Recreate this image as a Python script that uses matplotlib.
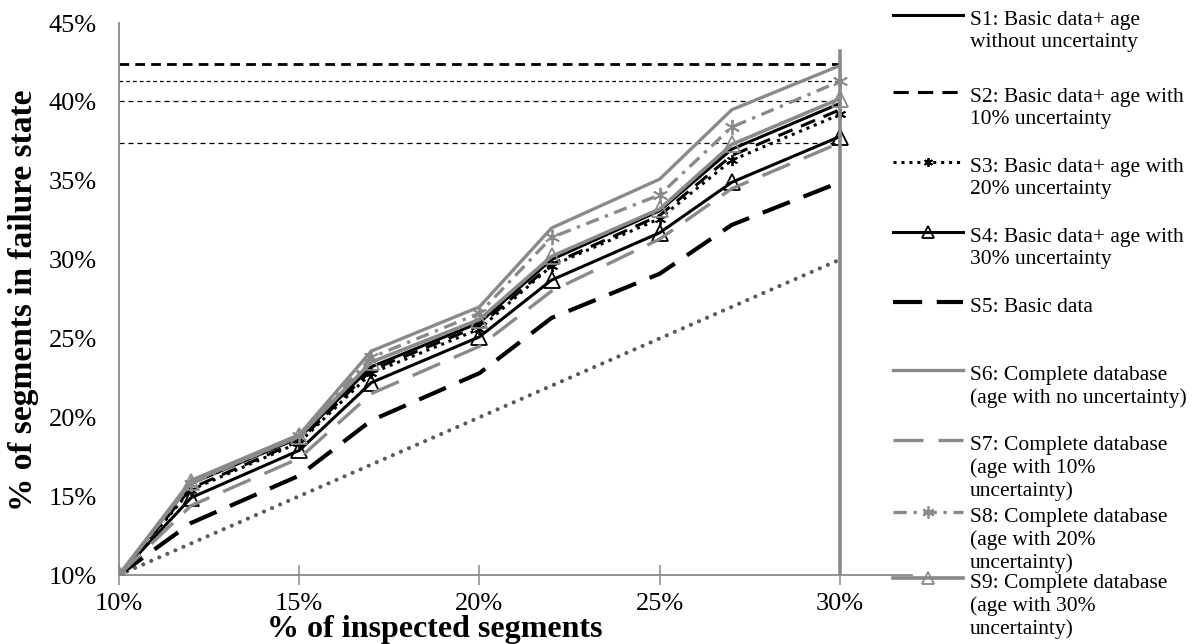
import numpy as np
import matplotlib
matplotlib.use('Agg')
import matplotlib.pyplot as plt
from matplotlib.lines import Line2D

plt.rcParams['font.family'] = ['Liberation Serif', 'DejaVu Serif']

# x positions (% of inspected segments)
inspected = [10, 12, 15, 17, 20, 22, 25, 27, 30]

# % of segments in failure state, per scenario
s1 = [10, 15.8, 18.7, 23.2, 26.0, 30.0, 33.1, 37.0, 39.9]
s2 = [10, 15.5, 18.5, 23.0, 25.8, 29.7, 32.8, 36.6, 39.5]
s3 = [10, 15.4, 18.4, 22.8, 25.6, 29.6, 32.6, 36.3, 39.2]
s4 = [10, 14.9, 17.9, 22.2, 25.1, 28.7, 31.7, 34.9, 37.8]
s5 = [10, 13.3, 16.3, 19.8, 22.8, 26.3, 29.1, 32.2, 34.9]
s6 = [10, 16.0, 18.9, 24.2, 27.0, 32.0, 35.1, 39.5, 42.3]
s7 = [10, 14.4, 17.4, 21.5, 24.5, 28.0, 31.3, 34.5, 37.4]
s8 = [10, 15.8, 18.8, 23.8, 26.6, 31.4, 34.1, 38.4, 41.3]
s9 = [10, 15.9, 18.8, 23.5, 26.2, 30.2, 33.2, 37.3, 40.2]

# random-inspection reference (diagonal) and horizontal reference levels
baseline_x = [10, 30]
baseline_y = [10, 30]
ref_levels = [42.4, 41.3, 40.05, 37.4]
vline_top = 43.2

labels = [
    "S1: Basic data+ age\nwithout uncertainty",
    "S2: Basic data+ age with\n10% uncertainty",
    "S3: Basic data+ age with\n20% uncertainty",
    "S4: Basic data+ age with\n30% uncertainty",
    "S5: Basic data",
    "S6: Complete database\n(age with no uncertainty)",
    "S7: Complete database\n(age with 10%\nuncertainty)",
    "S8: Complete database\n(age with 20%\nuncertainty)",
    "S9: Complete database\n(age with 30%\nuncertainty)",
]

GRAY = '#8a8a8a'
DGRAY = '#5a5a5a'
star = (6, 2, 0)

styles = [
    dict(color='black', lw=2.2, ls='-'),
    dict(color='black', lw=2.2, ls=(0, (5, 3))),
    dict(color='black', lw=2.2, ls=(0, (1, 1.6)), marker=star, ms=8, mew=1.3),
    dict(color='black', lw=2.2, ls='-', marker='^', ms=11, mfc='none', mew=1.3),
    dict(color='black', lw=3.0, ls=(0, (7, 3.5))),
    dict(color=GRAY, lw=2.4, ls='-'),
    dict(color=GRAY, lw=2.4, ls=(0, (9, 4.5))),
    dict(color=GRAY, lw=2.4, ls=(0, (4, 2, 1, 2)), marker=star, ms=11, mew=1.3),
    dict(color=GRAY, lw=2.6, ls='-', marker='^', ms=11, mfc='none', mew=1.3),
]
series = [s1, s2, s3, s4, s5, s6, s7, s8, s9]

W, H = 1204, 644
fig = plt.figure(figsize=(W / 100, H / 100), dpi=100)
ax = fig.add_axes([119 / W, 1 - 575 / H, (912 - 119) / W, (575 - 23) / H])

# diagonal reference
ax.plot(baseline_x, baseline_y, color=DGRAY, lw=3, ls=(0, (0.01, 2.1)),
        dash_capstyle='round', zorder=2)

# horizontal reference lines
ax.plot([10, 30], [ref_levels[0]] * 2, color='black', lw=2.0, ls=(0, (3.5, 2.2)), zorder=2)
ax.plot([10, 30], [ref_levels[1]] * 2, color='black', lw=0.9, ls=(0, (3, 2.4)), zorder=2)
ax.plot([10, 30], [ref_levels[2]] * 2, color='black', lw=0.9, ls=(0, (4, 3.2)), zorder=2)
ax.plot([10, 30], [ref_levels[3]] * 2, color='black', lw=0.9, ls=(0, (4, 3.2)), zorder=2)

# draw order: basic-data series first, then complete database
order = [4, 3, 2, 1, 0, 6, 8, 7, 5]
for i in order:
    st = styles[i]
    ax.plot(inspected, series[i], color=st['color'], lw=st['lw'], ls=st['ls'],
            marker=st.get('marker'), ms=st.get('ms', 0), mfc=st.get('mfc', st['color']),
            mec=st['color'], mew=st.get('mew', 1), zorder=3)

# vertical line at 30%
ax.plot([30, 30], [10, vline_top], color=GRAY, lw=2.6, zorder=4)

ax.set_xlim(10, 32)
ax.set_ylim(10, 45)
ax.set_xticks([10, 15, 20, 25, 30])
ax.set_xticklabels(['10%', '15%', '20%', '25%', '30%'])
ax.set_yticks([10, 15, 20, 25, 30, 35, 40, 45])
ax.set_yticklabels(['%d%%' % v for v in [10, 15, 20, 25, 30, 35, 40, 45]])
ax.tick_params(axis='x', direction='inout', length=14, width=1.1, color=GRAY,
               labelsize=19, pad=6)
ax.tick_params(axis='y', length=0, labelsize=19, pad=16)
for side in ['top', 'right']:
    ax.spines[side].set_visible(False)
for side in ['left', 'bottom']:
    ax.spines[side].set_color(GRAY)
    ax.spines[side].set_linewidth(1.3)

fig.text(24 / W, 1 - 300 / H, '% of segments in failure state', fontsize=24,
         fontweight='bold', rotation=90, ha='center', va='center')
fig.text(435 / W, 1 - 637 / H, '% of inspected segments', fontsize=23,
         fontweight='bold', ha='center', va='baseline')

# legend drawn by hand on the right
leg_y = [15, 92, 162, 232, 302, 370, 440, 512, 578]
for i, y in enumerate(leg_y):
    st = styles[i]
    fy = 1 - y / H
    fig.add_artist(Line2D([893 / W, 963 / W], [fy, fy], transform=fig.transFigure,
                          color=st['color'], lw=st['lw'], ls=st['ls']))
    if st.get('marker'):
        fig.add_artist(Line2D([928 / W], [fy], transform=fig.transFigure,
                              color=st['color'], ls='none', marker=st['marker'],
                              ms=st['ms'] * 0.8, mfc=st.get('mfc', st['color']),
                              mec=st['color'], mew=st.get('mew', 1)))
    fig.text(970 / W, fy + 4 / H, labels[i], fontsize=15.5, ha='left', va='top',
             linespacing=1.22)

fig.savefig('out.png', dpi=100)
